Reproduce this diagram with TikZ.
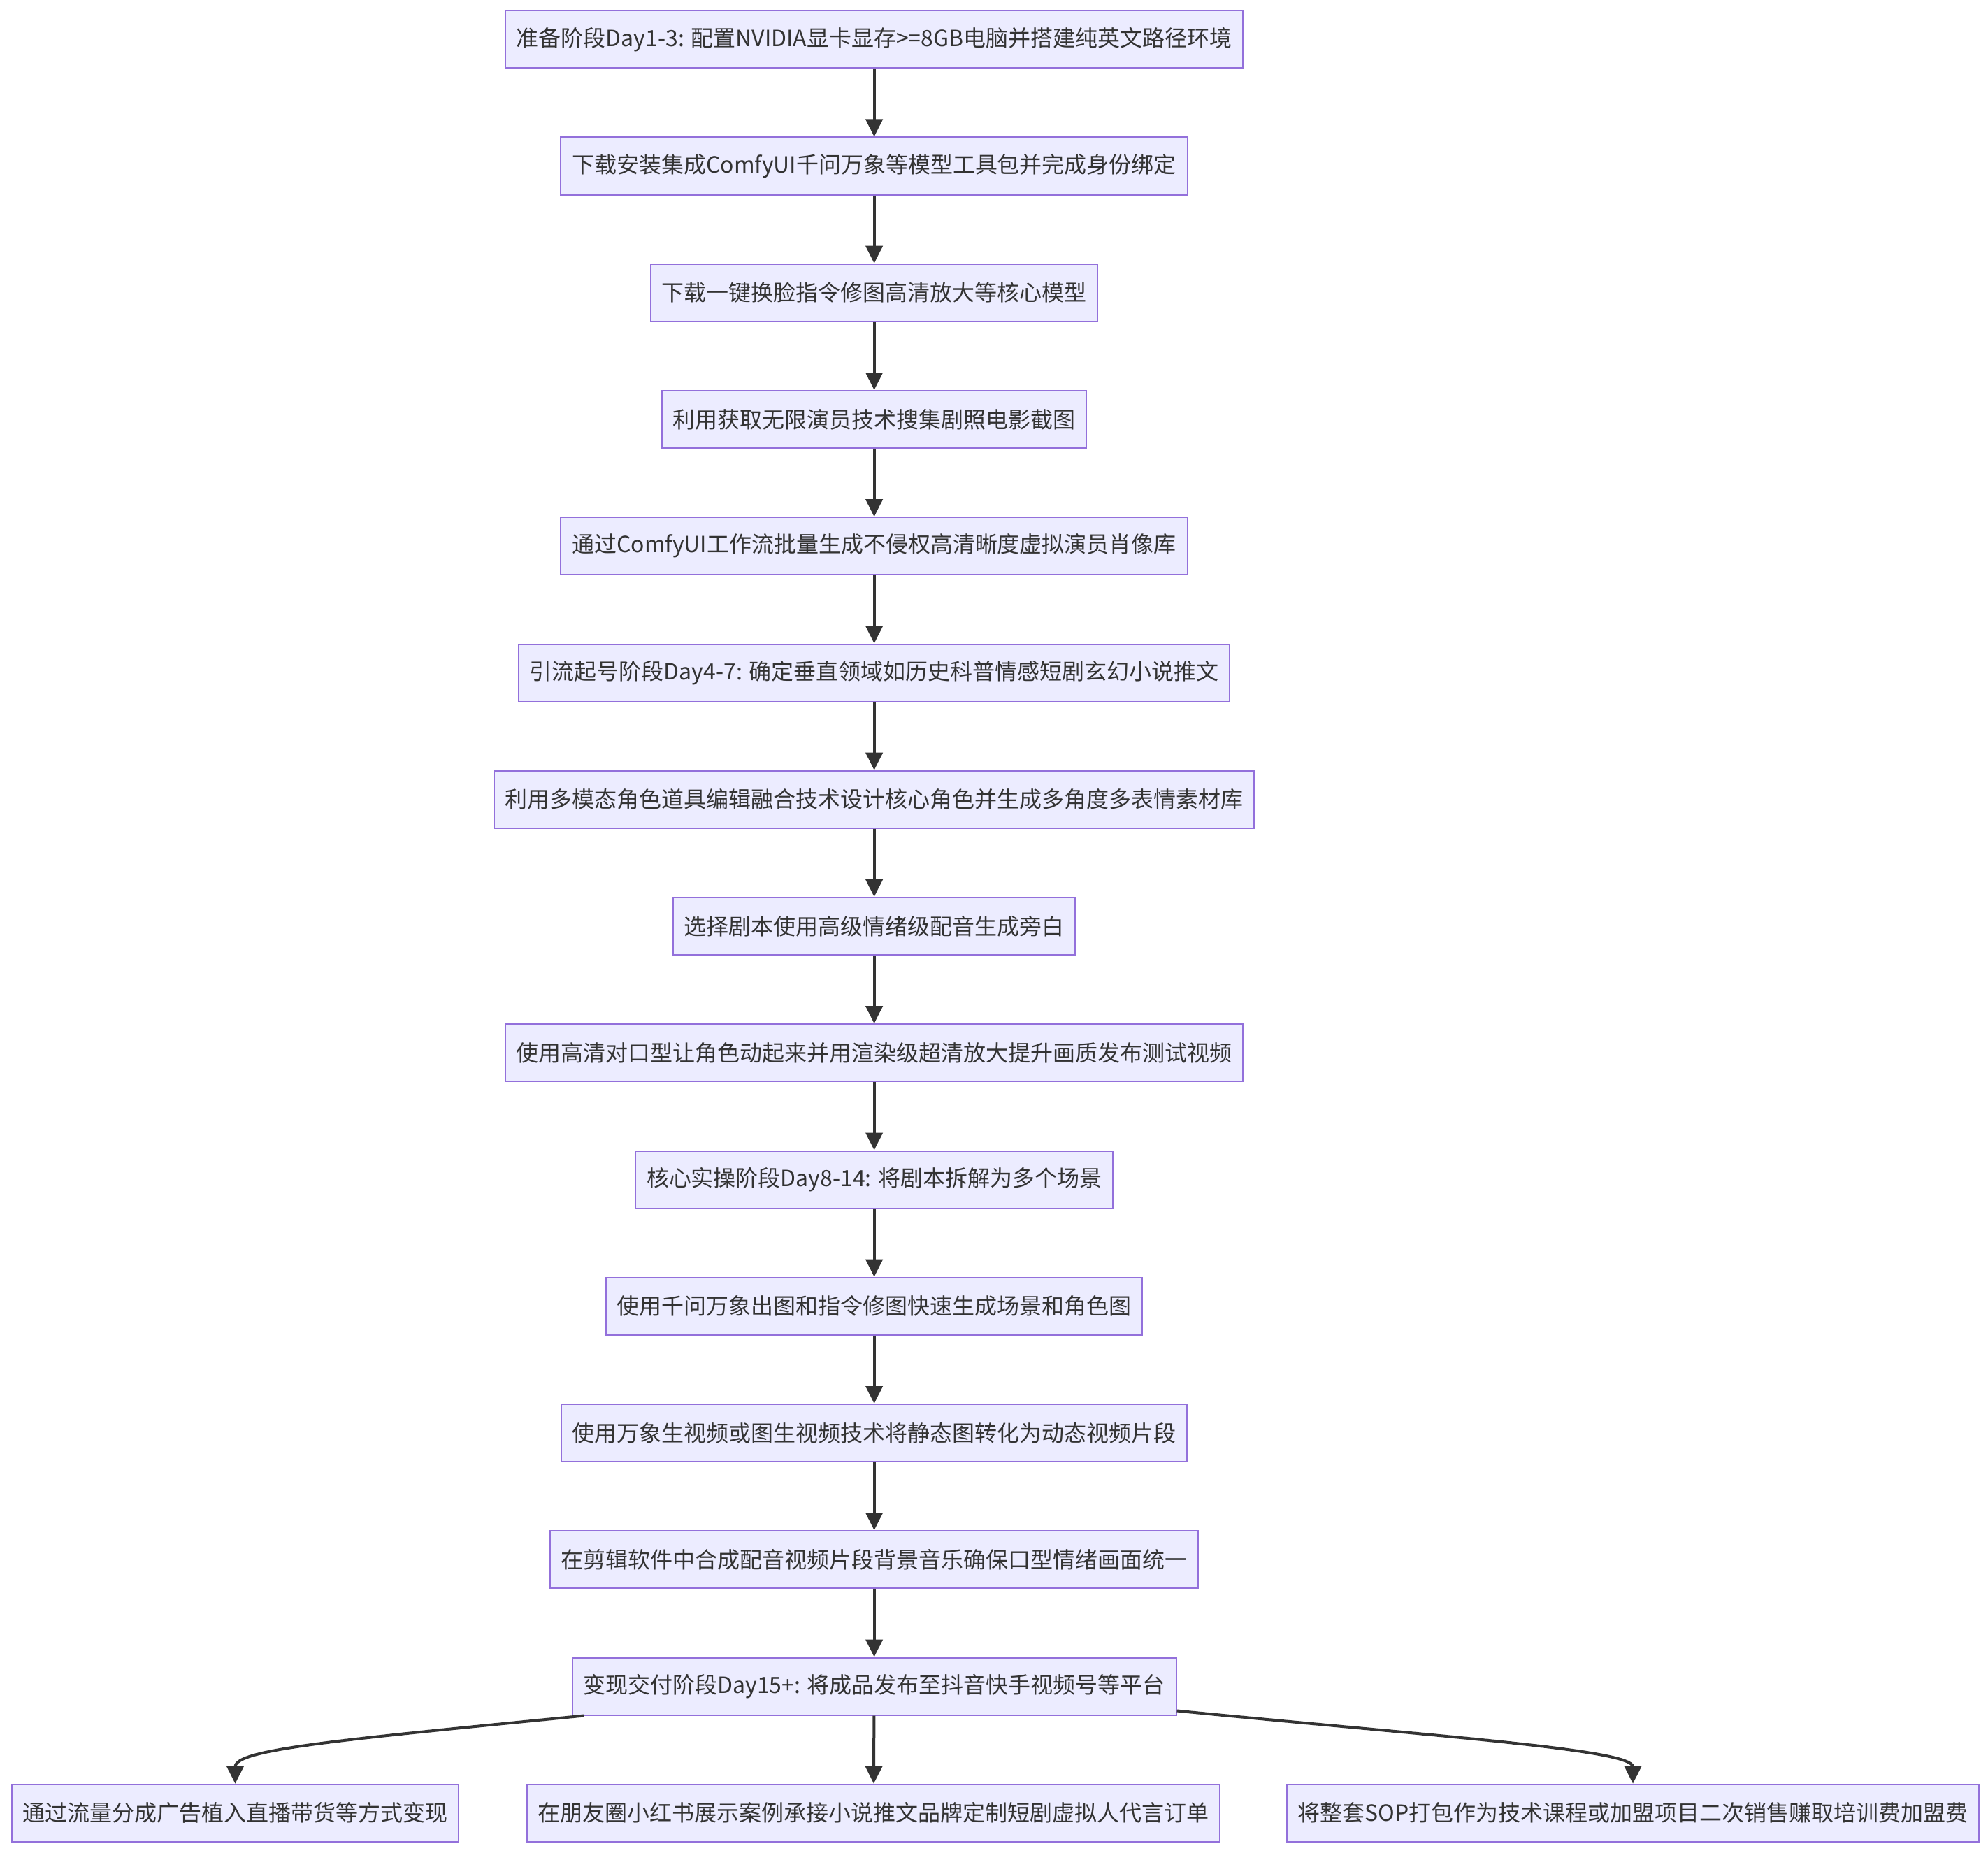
\documentclass[tikz,border=0pt]{standalone}
\usepackage{fontspec}
\setmainfont{Noto Sans CJK SC}
\usetikzlibrary{arrows.meta,calc}
\definecolor{mmfill}{HTML}{ECECFF}
\definecolor{mmline}{HTML}{9370DB}
\definecolor{mmink}{HTML}{333333}
\tikzset{
  bx/.style={draw=mmline, line width=0.02cm, fill=mmfill, text=mmink, font=\fontsize{9.1pt}{11pt}\selectfont, minimum height=0.82cm, inner xsep=0.16cm, inner ysep=2pt},
  arr/.style={-{Triangle[length=0.25cm, width=0.24cm]}, line width=0.04cm, color=mmink},
}
\begin{document}
\begin{tikzpicture}
  \useasboundingbox (0,0) rectangle (28.44,-26.5);
  % main chain
  \node[bx] (s1) at (12.506,-0.562) {准备阶段Day1-3: 配置NVIDIA显卡显存>=8GB电脑并搭建纯英文路径环境};
  \node[bx] (s2) at (12.506,-2.375) {下载安装集成ComfyUI千问万象等模型工具包并完成身份绑定};
  \node[bx] (s3) at (12.506,-4.187) {下载一键换脸指令修图高清放大等核心模型};
  \node[bx] (s4) at (12.506,-6.000) {利用获取无限演员技术搜集剧照电影截图};
  \node[bx] (s5) at (12.506,-7.812) {通过ComfyUI工作流批量生成不侵权高清晰度虚拟演员肖像库};
  \node[bx] (s6) at (12.506,-9.625) {引流起号阶段Day4-7: 确定垂直领域如历史科普情感短剧玄幻小说推文};
  \node[bx] (s7) at (12.506,-11.437) {利用多模态角色道具编辑融合技术设计核心角色并生成多角度多表情素材库};
  \node[bx] (s8) at (12.506,-13.250) {选择剧本使用高级情绪级配音生成旁白};
  \node[bx] (s9) at (12.506,-15.062) {使用高清对口型让角色动起来并用渲染级超清放大提升画质发布测试视频};
  \node[bx] (s10) at (12.506,-16.875) {核心实操阶段Day8-14: 将剧本拆解为多个场景};
  \node[bx] (s11) at (12.506,-18.687) {使用千问万象出图和指令修图快速生成场景和角色图};
  \node[bx] (s12) at (12.506,-20.500) {使用万象生视频或图生视频技术将静态图转化为动态视频片段};
  \node[bx] (s13) at (12.506,-22.312) {在剪辑软件中合成配音视频片段背景音乐确保口型情绪画面统一};
  \node[bx] (s14) at (12.506,-24.125) {变现交付阶段Day15+: 将成品发布至抖音快手视频号等平台};
  % ways to earn
  \node[bx] (m1) at (3.365,-25.937) {通过流量分成广告植入直播带货等方式变现};
  \node[bx] (m2) at (12.497,-25.937) {在朋友圈小红书展示案例承接小说推文品牌定制短剧虚拟人代言订单};
  \node[bx] (m3) at (23.360,-25.937) {将整套SOP打包作为技术课程或加盟项目二次销售赚取培训费加盟费};
  \foreach \a/\b in {s1/s2,s2/s3,s3/s4,s4/s5,s5/s6,s6/s7,s7/s8,s8/s9,s9/s10,s10/s11,s11/s12,s12/s13,s13/s14,s14/m2} \draw[arr] (\a) -- (\b);
  \draw[arr] ($(s14.south west)+(0.18,0)$) .. controls ($(m1.north)+(1.44,0.62)$) and ($(m1.north)+(0,0.49)$) .. (m1.north);
  \draw[arr] ($(s14.south east)+(0,0.07)$) .. controls ($(m3.north)+(-2.76,0.67)$) and ($(m3.north)+(0,0.49)$) .. (m3.north);
\end{tikzpicture}
\end{document}
